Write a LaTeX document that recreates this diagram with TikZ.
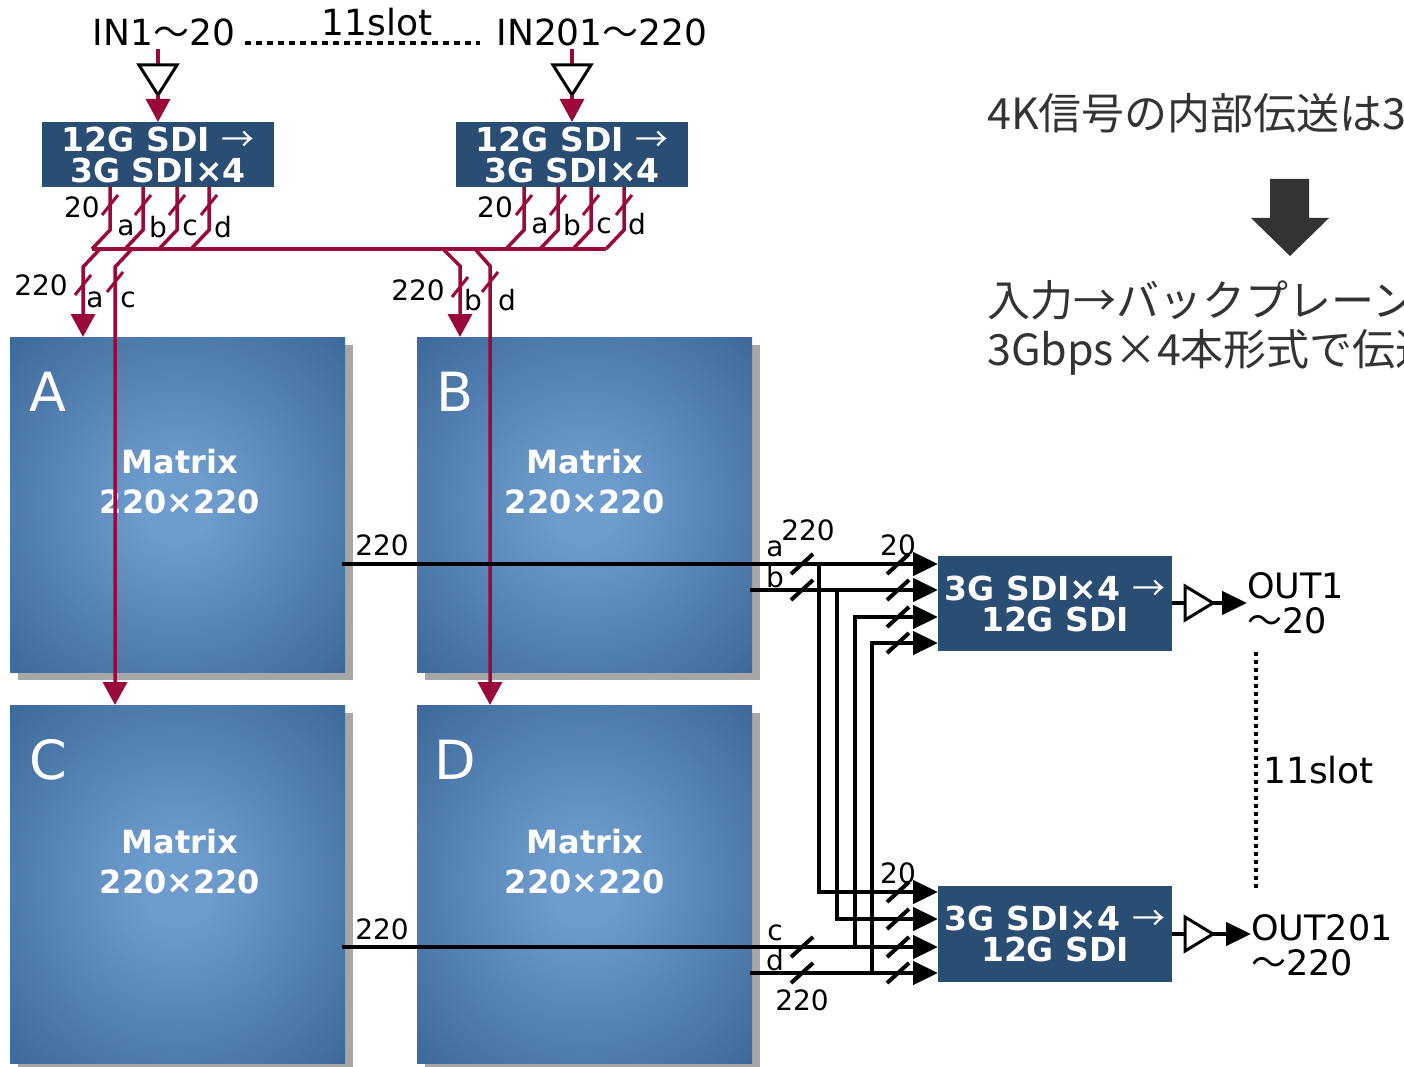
\documentclass[tikz,border=0pt]{standalone}
\usepackage{fontspec}
\setmainfont{DejaVu Sans}
\newfontfamily\cjk{Noto Sans CJK JP}
\usetikzlibrary{arrows.meta,shadows}
\definecolor{redl}{RGB}{155,8,58}
\definecolor{boxblue}{RGB}{42,77,115}
\definecolor{matE}{RGB}{56,101,149}
\definecolor{matC}{RGB}{110,156,204}
\definecolor{arrgray}{RGB}{51,51,51}
\pgfdeclareradialshading{matshade}{\pgfpoint{0bp}{0bp}}{color(0bp)=(matC); color(5bp)=(matC); color(38bp)=(matE); color(80bp)=(matE)}
\newcommand{\tld}{{\cjk ～}}
\newcommand{\rarr}{{\mdseries\cjk →}}
\begin{document}
\begin{tikzpicture}[x=1pt,y=-1pt,
  redline/.style={draw=redl,line width=3.5pt},
  blkline/.style={draw=black,line width=4.5pt},
  redarr/.style={redline,-{Triangle[length=23pt,width=24pt]}},
  blkarr/.style={blkline,-{Triangle[length=25pt,width=23pt]}},
  matbox/.style={rectangle,inner sep=0pt,outer sep=0pt,anchor=north west,shading=matshade,
    drop shadow={shadow xshift=8pt,shadow yshift=-8pt,fill=black!35,opacity=1}},
  cvbox/.style={rectangle,inner sep=0pt,outer sep=0pt,anchor=north west,fill=boxblue,text=white,align=center,
    font=\bfseries\fontsize{33}{31}\selectfont},
  matlet/.style={text=white,font=\fontsize{54}{54}\selectfont,inner sep=0pt},
  mattxt/.style={text=white,align=center,font=\bfseries\fontsize{32}{40}\selectfont,inner sep=0pt},
  lbl/.style={font=\fontsize{28}{28}\selectfont,inner sep=0pt},
  bigtxt/.style={font=\fontsize{36}{36}\selectfont,inner sep=0pt},
  outtxt/.style={font=\fontsize{35}{35}\selectfont,inner sep=0pt,align=left,anchor=west},
  jp/.style={font=\cjk\fontsize{43}{43}\selectfont,inner sep=0pt,anchor=west,text=arrgray},
  buf/.style={draw=black,line width=3pt,fill=white,line join=miter},
  slashr/.style={draw=redl,line width=3pt},
  slashb/.style={draw=black,line width=4pt},
]
\useasboundingbox (0,0) rectangle (1404,1067);
\clip (0,0) rectangle (1404,1067);

% ---------------- matrices ----------------
\node[matbox,minimum width=335pt,minimum height=335pt] (A) at (10,337) {};
\node[matbox,minimum width=335pt,minimum height=335pt] (B) at (417,337) {};
\node[matbox,minimum width=335pt,minimum height=358pt] (C) at (10,705) {};
\node[matbox,minimum width=335pt,minimum height=358pt] (D) at (417,705) {};
\node[matlet] (Al) at (48,392) {A};
\node[matlet] (Bl) at (455,392) {B};
\node[matlet] (Cl) at (48,760) {C};
\node[matlet] (Dl) at (455,760) {D};
\node[mattxt] (At) at (180,482) {Matrix\\220×220};
\node[mattxt] (Bt) at (585,482) {Matrix\\220×220};
\node[mattxt] (Ct) at (180,862) {Matrix\\220×220};
\node[mattxt] (Dt) at (585,862) {Matrix\\220×220};

% ---------------- converter boxes ----------------
\node[cvbox,minimum width=232pt,minimum height=65pt] (cv1) at (42,122) {12G SDI \rarr\\3G SDI×4};
\node[cvbox,minimum width=232pt,minimum height=65pt] (cv2) at (456,122) {12G SDI \rarr\\3G SDI×4};
\node[cvbox,minimum width=234pt,minimum height=95pt] (out1) at (938,556) {3G SDI×4 \rarr\\12G SDI};
\node[cvbox,minimum width=234pt,minimum height=96pt] (out2) at (938,886) {3G SDI×4 \rarr\\12G SDI};

% ---------------- inputs ----------------
\node[bigtxt] (in1) at (164,32) {IN1\tld 20};
\node[bigtxt] (in2) at (602,32) {IN201\tld 220};
\node[bigtxt] (slotT) at (377,22) {11slot};
\coordinate (dotL) at (245,43);
\coordinate (dotR) at (480,43);
\draw[line width=4pt,dash pattern=on 6pt off 5pt] (dotL) -- (dotR);

\coordinate (i1a) at (158,49); \coordinate (i1t) at (158,65); \coordinate (i1b) at (158,95);
\coordinate (i2a) at (572,49); \coordinate (i2t) at (572,65); \coordinate (i2b) at (572,95);
\draw[redline] (i1a) -- (i1t);
\draw[redline] (i2a) -- (i2t);
\draw[buf] (139,65) -- (177,65) -- (i1b) -- cycle;
\draw[buf] (553,65) -- (591,65) -- (i2b) -- cycle;
\draw[redarr] (i1b) -- (i1b |- cv1.north);
\draw[redarr] (i2b) -- (i2b |- cv2.north);

% ---------------- converter outputs to bus ----------------
\foreach \n/\x in {1a/110,1b/143,1c/177,1d/209,2a/524,2b/558,2c/591,2d/624}{
  \coordinate (k\n) at (\x,230);
  \coordinate (q\n) at (\x-18,249);
}
\foreach \n in {1a,1b,1c,1d}{
  \draw[redline] (k\n |- cv1.south) -- (k\n) -- (q\n);
  \draw[slashr] (k\n) ++(-8,-15) -- ++(16,-20);
}
\foreach \n in {2a,2b,2c,2d}{
  \draw[redline] (k\n |- cv2.south) -- (k\n) -- (q\n);
  \draw[slashr] (k\n) ++(-8,-15) -- ++(16,-20);
}
\draw[redline] (q1a) -- (q2d);

\node[lbl] (l20a) at (82,207) {20};
\node[lbl] (l1a) at (126,228) {a};
\node[lbl] (l1b) at (158,227) {b};
\node[lbl] (l1c) at (190,228) {c};
\node[lbl] (l1d) at (223,227) {d};
\node[lbl] (l20b) at (495,207) {20};
\node[lbl] (l2a) at (540,226) {a};
\node[lbl] (l2b) at (572,225) {b};
\node[lbl] (l2c) at (604,226) {c};
\node[lbl] (l2d) at (637,224) {d};

% ---------------- bus to matrices ----------------
\coordinate (ba1) at (100,249); \coordinate (ba2) at (83,267);
\coordinate (bc1) at (132,249); \coordinate (bc2) at (115,267);
\coordinate (bb1) at (443,249); \coordinate (bb2) at (460,266);
\coordinate (bd1) at (475,249); \coordinate (bd2) at (490,266);
\draw[redarr] (ba1) -- (ba2) -- (ba2 |- A.north);
\draw[redarr] (bc1) -- (bc2) -- (bc2 |- C.north);
\draw[redarr] (bb1) -- (bb2) -- (bb2 |- B.north);
\draw[redarr] (bd1) -- (bd2) -- (bd2 |- D.north);
\draw[slashr] (75,295) -- ++(16,-20);
\draw[slashr] (107,292) -- ++(16,-20) ;
\draw[slashr] (452,297) -- ++(16,-20);
\draw[slashr] (482,292) -- ++(16,-20);
\node[lbl] (l220a) at (41,285) {220};
\node[lbl] (lAa) at (95,300) {a};
\node[lbl] (lAc) at (128,300) {c};
\node[lbl] (l220b) at (418,290) {220};
\node[lbl] (lBb) at (473,300) {b};
\node[lbl] (lBd) at (507,300) {d};

% ---------------- matrix outputs ----------------
\coordinate (aS) at (342,564);
\coordinate (bS) at (750,590);
\coordinate (cS) at (342,947);
\coordinate (dS) at (750,973);
\coordinate (v1t) at (819,564); \coordinate (v1b) at (819,892);
\coordinate (v2t) at (837,590); \coordinate (v2b) at (837,919);
\coordinate (v3t) at (855,617); \coordinate (v3b) at (855,947);
\coordinate (v4t) at (872,643); \coordinate (v4b) at (872,973);
\draw[blkarr] (aS) -- (aS -| out1.west);
\draw[blkarr] (bS) -- (bS -| out1.west);
\draw[blkarr] (cS) -- (cS -| out2.west);
\draw[blkarr] (dS) -- (dS -| out2.west);
\draw[blkarr] (v1t) -- (v1b) -- (v1b -| out2.west);
\draw[blkarr] (v2t) -- (v2b) -- (v2b -| out2.west);
\draw[blkarr] (v3b) -- (v3t) -- (v3t -| out1.west);
\draw[blkarr] (v4b) -- (v4t) -- (v4t -| out1.west);
\foreach \y in {564,590,617,643,892,919,947,973}{
  \draw[slashb] (887,\y+10) -- ++(22,-20);
}
\foreach \y in {564,590,947,973}{
  \draw[slashb] (791,\y+10) -- ++(22,-20);
}
\node[lbl] (lo1) at (382,545) {220};
\node[lbl] (lo2) at (382,929) {220};
\node[lbl] (lxa) at (775,549) {a};
\node[lbl] (lxb) at (775,577) {b};
\node[lbl] (lx220a) at (808,530) {220};
\node[lbl] (lx20a) at (898,545) {20};
\node[lbl] (lxc) at (775,933) {c};
\node[lbl] (lxd) at (775,960) {d};
\node[lbl] (lx220b) at (802,1000) {220};
\node[lbl] (lx20b) at (898,873) {20};

% ---------------- outputs ----------------
\coordinate (o1a) at (1185,603); \coordinate (o1b) at (1213,603);
\coordinate (o2a) at (1185,934); \coordinate (o2b) at (1213,934);
\draw[blkline] (out1.east |- o1a) -- (o1a);
\draw[blkline] (out2.east |- o2a) -- (o2a);
\draw[buf] (1185,586) -- (1185,620) -- (o1b) -- cycle;
\draw[buf] (1185,917) -- (1185,951) -- (o2b) -- cycle;
\node[outtxt] (ot1) at (1247,603) {OUT1\\\tld 20};
\node[outtxt] (ot2) at (1251,945) {OUT201\\\tld 220};
\draw[blkarr] (o1b) -- (ot1.west);
\draw[blkarr] (o2b) -- (o2b -| ot2.west);
\coordinate (vdT) at (1256,652);
\coordinate (vdB) at (1256,890);
\draw[line width=4pt,dash pattern=on 4pt off 4pt] (vdT) -- (vdB);
\node[bigtxt,anchor=west] (slotR) at (1263,770) {11slot};

% ---------------- right note ----------------
\node[jp] (t1) at (987,113) {4K信号の内部伝送は3G};
\node[jp] (t2) at (987,300) {入力→バックプレーン};
\node[jp] (t3) at (987,352) {3Gbps×4本形式で伝送};
\fill[arrgray] (1270,179) -- (1309,179) -- (1309,218) -- (1329,218) -- (1290,256) -- (1251,218) -- (1270,218) -- cycle;
\end{tikzpicture}
\end{document}
